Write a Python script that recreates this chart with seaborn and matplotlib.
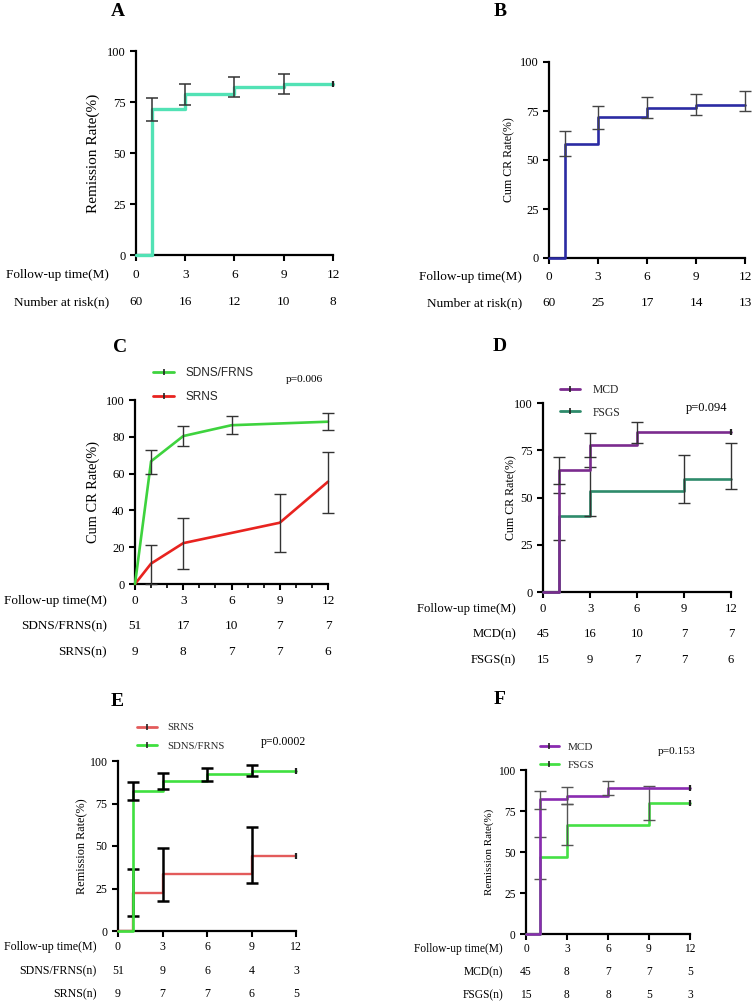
import numpy as np
import pandas as pd
import matplotlib
matplotlib.use("Agg")
import matplotlib.pyplot as plt
import seaborn as sns
from matplotlib.lines import Line2D

sns.set_theme(style="ticks")
plt.rcParams['font.family'] = ['Liberation Serif', 'DejaVu Serif']

# ---------------- data ----------------
months = [0, 3, 6, 9, 12]
step_t = [0, 1, 3, 6, 9, 12]

# A
A_rate = [0, 71.7, 78.8, 82.2, 84.0, 84.0]
A_err_t = [1, 3, 6, 9]
A_lo = [65.7, 73.4, 77.3, 79.0]
A_hi = [77.2, 83.8, 87.3, 88.6]
A_risk = [60, 16, 12, 10, 8]

# B
B_rate = [0, 58.3, 71.7, 76.7, 78.3, 78.3]
B_err_t = [1, 3, 6, 9, 12]
B_lo = [52.0, 65.7, 71.3, 73.0, 75.0]
B_hi = [64.7, 77.3, 82.1, 83.6, 85.0]
B_risk = [60, 25, 17, 14, 13]

# C
C_sd_t = [0, 1, 3, 6, 12]
C_sd_rate = [0, 66.7, 80.4, 86.3, 88.2]
C_sd_err_t = [1, 3, 6, 12]
C_sd_lo = [60.0, 74.8, 81.5, 83.7]
C_sd_hi = [73.0, 86.1, 91.1, 92.8]
C_sr_t = [0, 1, 3, 9, 12]
C_sr_rate = [0, 11.1, 22.2, 33.3, 55.6]
C_sr_err_t = [1, 3, 9, 12]
C_sr_lo = [0.0, 8.2, 17.4, 38.6]
C_sr_hi = [21.4, 35.9, 48.7, 71.9]
C_sd_risk = [51, 17, 10, 7, 7]
C_sr_risk = [9, 8, 7, 7, 6]

# D
D_mcd_rate = [0, 64.4, 77.8, 84.4, 84.4, 84.4]
D_mcd_err_t = [1, 3, 6]
D_mcd_lo = [57.0, 71.6, 79.0]
D_mcd_hi = [71.4, 84.0, 89.7]
D_fsgs_rate = [0, 40.0, 53.3, 53.3, 60.0, 60.0]
D_fsgs_err_t = [1, 3, 9, 12]
D_fsgs_lo = [27.4, 40.1, 47.2, 54.4]
D_fsgs_hi = [52.4, 66.3, 72.5, 79.0]
D_mcd_risk = [45, 16, 10, 7, 7]
D_fsgs_risk = [15, 9, 7, 7, 6]

# E
E_sd_rate = [0, 82.4, 88.2, 92.2, 94.1, 94.1]
E_sd_err_t = [1, 3, 6, 9]
E_sd_lo = [77.1, 83.5, 88.4, 91.0]
E_sd_hi = [87.8, 92.7, 96.1, 97.5]
E_sr_rate = [0, 22.2, 33.3, 33.3, 44.4, 44.4]
E_sr_err_t = [1, 3, 9]
E_sr_lo = [8.6, 17.8, 28.0]
E_sr_hi = [36.3, 49.0, 61.2]
E_sd_risk = [51, 9, 6, 4, 3]
E_sr_risk = [9, 7, 7, 6, 5]

# F
F_mcd_rate = [0, 82.2, 84.4, 88.9, 88.9, 88.9]
F_mcd_err_t = [1, 3, 6]
F_mcd_lo = [76.2, 79.3, 84.6]
F_mcd_hi = [87.4, 89.6, 93.1]
F_fsgs_rate = [0, 46.7, 66.7, 66.7, 80.0, 80.0]
F_fsgs_err_t = [1, 3, 9]
F_fsgs_lo = [33.7, 54.5, 69.5]
F_fsgs_hi = [59.1, 79.3, 90.0]
F_mcd_risk = [45, 8, 7, 7, 5]
F_fsgs_risk = [15, 8, 8, 5, 3]

# ---------------- figure ----------------
W, H = 755, 1005
fig = plt.figure(figsize=(W / 100, H / 100), dpi=100)
fig.patch.set_facecolor('white')


def px_axes(x0, ytop, x1, ybot):
    return fig.add_axes([x0 / W, 1 - ybot / H, (x1 - x0) / W, (ybot - ytop) / H])


def style(ax, yticks, xfs, yfs, minor=False, tick_dy=20, label_dx=-36,
          ylabel='', ylfs=10):
    ax.set_xlim(0, 12)
    ax.set_ylim(0, 100)
    ax.set_yticks(yticks)
    ax.set_xticks(months, labels=[str(m) for m in months], va='center')
    sns.despine(ax=ax)
    ax.grid(False)
    ax.set_facecolor('none')
    for s in ['left', 'bottom']:
        ax.spines[s].set_linewidth(1.6)
        ax.spines[s].set_color('black')
        ax.spines[s].set_zorder(2)
    ax.tick_params(axis='both', which='major', direction='out', length=4,
                   width=1.5, color='black', labelcolor='black')
    ax.tick_params(axis='x', labelsize=xfs, pad=(tick_dy - 5.6) * 0.72)
    ax.tick_params(axis='y', labelsize=yfs, pad=3.5)
    if minor:
        ax.set_xticks(range(13), minor=True)
        ax.tick_params(axis='x', which='minor', direction='out', length=3,
                       width=1.2, color='black')
    ax.set_xlabel('')
    ax.set_ylabel(ylabel, fontsize=ylfs, color='black')
    bb = ax.get_position()
    ax.yaxis.set_label_coords(label_dx / (bb.width * W), 0.5)


def rows(ax, labels, values, dys, dx, fs):
    for lab, vals, dy in zip(labels, values, dys):
        ax.annotate(lab, xy=(0, 0), xycoords='axes fraction',
                    xytext=(-dx, -dy), textcoords='offset pixels',
                    ha='right', va='center', fontsize=fs, color='black',
                    annotation_clip=False)
        if vals is None:
            continue
        for t, v in zip(months, vals):
            ax.annotate(str(v), xy=(t, 0), xycoords=('data', 'axes fraction'),
                        xytext=(0, -dy), textcoords='offset pixels',
                        ha='center', va='center', fontsize=fs, color='black',
                        annotation_clip=False)


def curve(ax, t, rate, color, lw, steps=True, censor=True, z=3):
    sns.lineplot(x=t, y=rate, ax=ax, color=color, linewidth=lw,
                 drawstyle='steps-post' if steps else 'default',
                 errorbar=None, clip_on=False, zorder=z)
    if censor:
        ax.plot([t[-1]], [rate[-1]], marker='|', markersize=5,
                markeredgewidth=1.6, color='#222222', linestyle='none',
                clip_on=False, zorder=z + 0.5)


def bars(ax, t_all, rate, et, lo, hi, color='#333333', lw=1.0, cap=4, z=4):
    center = [rate[list(t_all).index(x)] for x in et]
    yerr = [np.array(center) - np.array(lo), np.array(hi) - np.array(center)]
    ax.errorbar(et, center, yerr=yerr, fmt='none', ecolor=color,
                elinewidth=lw, capsize=cap, capthick=lw, zorder=z,
                clip_on=False)


def legend(ax, labels, colors, x_px, y_px, fs, family, hl, htp, ls):
    hs = [Line2D([], [], color=c, lw=2, marker='|', markersize=5,
                 markeredgecolor='#222222', markeredgewidth=1.2)
          for c in colors]
    ax.legend(hs, labels, loc='upper left',
              bbox_to_anchor=(x_px / W, 1 - y_px / H),
              bbox_transform=fig.transFigure, frameon=False,
              prop={'family': family, 'size': fs}, handlelength=hl,
              handletextpad=htp, labelspacing=ls, borderpad=0,
              borderaxespad=0, numpoints=1)


def title(letter, x, y):
    fig.text(x / W, 1 - y / H, letter, ha='center', va='center',
             fontsize=14, fontweight='bold', color='black')


# ---- A ----
axA = px_axes(136, 51, 333, 255)
curve(axA, step_t, A_rate, '#52E2B5', 2.4)
bars(axA, step_t, A_rate, A_err_t, A_lo, A_hi, color='#333333', lw=1.1)
style(axA, [0, 25, 50, 75, 100], 9.5, 9, tick_dy=20, label_dx=-36,
      ylabel='Remission Rate(%)', ylfs=11)
rows(axA, ['Follow-up time(M)', 'Number at risk(n)'], [None, A_risk],
     [20, 47], 27, 9.5)
title('A', 118, 12)

# ---- B ----
axB = px_axes(549, 62, 745, 258)
curve(axB, step_t, B_rate, '#2B2BA3', 1.9, censor=False)
bars(axB, step_t, B_rate, B_err_t, B_lo, B_hi, color='#444444', lw=1.0)
style(axB, [0, 25, 50, 75, 100], 9.5, 9, tick_dy=19, label_dx=-34,
      ylabel='Cum CR Rate(%)', ylfs=8.6)
rows(axB, ['Follow-up time(M)', 'Number at risk(n)'], [None, B_risk],
     [19, 45], 27, 9.5)
title('B', 500, 12)

# ---- C ----
axC = px_axes(135, 400, 328, 584)
curve(axC, C_sr_t, C_sr_rate, '#E8231F', 1.9, steps=False, censor=False, z=3)
bars(axC, C_sr_t, C_sr_rate, C_sr_err_t, C_sr_lo, C_sr_hi, color='#333333', z=4)
curve(axC, C_sd_t, C_sd_rate, '#3ED33E', 1.9, steps=False, censor=False, z=5)
bars(axC, C_sd_t, C_sd_rate, C_sd_err_t, C_sd_lo, C_sd_hi, color='#333333', z=6)
style(axC, [0, 20, 40, 60, 80, 100], 9.5, 9, minor=True, tick_dy=17,
      label_dx=-35, ylabel='Cum CR Rate(%)', ylfs=10.4)
rows(axC, ['Follow-up time(M)', 'SDNS/FRNS(n)', 'SRNS(n)'],
     [None, C_sd_risk, C_sr_risk], [17, 42, 68], 28, 9.5)
legend(axC, ['SDNS/FRNS', 'SRNS'], ['#3ED33E', '#E8231F'], 153, 367, 8.5,
       'Liberation Sans', 1.78, 0.95, 1.05)
fig.text(304 / W, 1 - 379 / H, 'p=0.006', ha='center', va='center',
         fontsize=8.2, color='black')
title('C', 120, 347)

# ---- D ----
axD = px_axes(543, 403, 731, 592)
curve(axD, step_t, D_fsgs_rate, '#2E8B6B', 1.9, censor=False, z=3)
bars(axD, step_t, D_fsgs_rate, D_fsgs_err_t, D_fsgs_lo, D_fsgs_hi,
     color='#333333', z=4)
curve(axD, step_t, D_mcd_rate, '#7B2B8E', 1.9, z=5)
bars(axD, step_t, D_mcd_rate, D_mcd_err_t, D_mcd_lo, D_mcd_hi,
     color='#333333', z=6)
style(axD, [0, 25, 50, 75, 100], 9.2, 9, tick_dy=17, label_dx=-26,
      ylabel='Cum CR Rate(%)', ylfs=8.6)
rows(axD, ['Follow-up time(M)', 'MCD(n)', 'FSGS(n)'],
     [None, D_mcd_risk, D_fsgs_risk], [17, 42, 68], 27, 9.2)
legend(axD, ['MCD', 'FSGS'], ['#7B2B8E', '#2E8B6B'], 560, 384, 8.4,
       'Liberation Serif', 1.75, 1.05, 0.9)
fig.text(707 / W, 1 - 408 / H, 'p=0.094', ha='center', va='center',
         fontsize=9, color='black')
title('D', 500, 346)

# ---- E ----
axE = px_axes(118, 761, 296, 931)
curve(axE, step_t, E_sr_rate, '#E35B5B', 1.7, z=3)
bars(axE, step_t, E_sr_rate, E_sr_err_t, E_sr_lo, E_sr_hi, color='black',
     lw=1.8, cap=4, z=4)
curve(axE, step_t, E_sd_rate, '#3FE03F', 1.9, z=5)
bars(axE, step_t, E_sd_rate, E_sd_err_t, E_sd_lo, E_sd_hi, color='black',
     lw=1.8, cap=4, z=6)
style(axE, [0, 25, 50, 75, 100], 8.6, 8.6, tick_dy=16, label_dx=-30,
      ylabel='Remission Rate(%)', ylfs=8.8)
rows(axE, ['Follow-up time(M)', 'SDNS/FRNS(n)', 'SRNS(n)'],
     [None, E_sd_risk, E_sr_risk], [16, 40, 63], 21, 8.6)
legend(axE, ['SRNS', 'SDNS/FRNS'], ['#E35B5B', '#3FE03F'], 137, 723, 7.7,
       'Liberation Serif', 1.9, 0.95, 0.85)
fig.text(283 / W, 1 - 742 / H, 'p=0.0002', ha='center', va='center',
         fontsize=8.5, color='black')
title('E', 117, 701)

# ---- F ----
axF = px_axes(526, 770, 690, 934)
curve(axF, step_t, F_fsgs_rate, '#45E045', 1.9, z=3)
bars(axF, step_t, F_fsgs_rate, F_fsgs_err_t, F_fsgs_lo, F_fsgs_hi,
     color='#555555', lw=1.0, z=4)
curve(axF, step_t, F_mcd_rate, '#8A2BB0', 1.9, z=5)
bars(axF, step_t, F_mcd_rate, F_mcd_err_t, F_mcd_lo, F_mcd_hi,
     color='#555555', lw=1.0, z=6)
style(axF, [0, 25, 50, 75, 100], 8.3, 8.3, tick_dy=15, label_dx=-32,
      ylabel='Remission Rate(%)', ylfs=8)
rows(axF, ['Follow-up time(M)', 'MCD(n)', 'FSGS(n)'],
     [None, F_mcd_risk, F_fsgs_risk], [15, 38, 61], 23, 8.3)
legend(axF, ['MCD', 'FSGS'], ['#8A2BB0', '#45E045'], 540, 742, 8,
       'Liberation Serif', 1.7, 0.8, 0.75)
fig.text(677 / W, 1 - 751 / H, 'p=0.153', ha='center', va='center',
         fontsize=8.2, color='black')
title('F', 500, 699)

fig.savefig('out.png', dpi=100, facecolor='white')
